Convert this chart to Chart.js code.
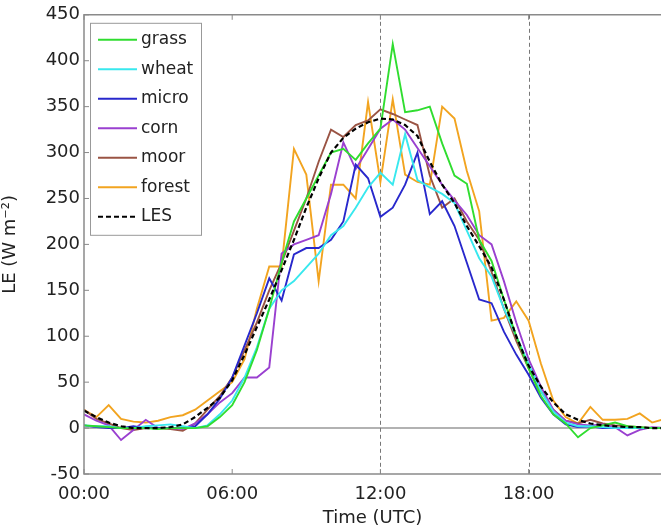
<!DOCTYPE html>
<html>
<head>
<meta charset="utf-8">
<script src="https://cdn.jsdelivr.net/npm/chart.js@4"></script>
<style>
  body { margin: 0; background: #fff; }
  #wrap { width: 661px; height: 532px; position: relative; }
</style>
</head>
<body>
<div id="wrap"><canvas id="leChart"></canvas></div>
<script>
// half-hourly time stamps (hours UTC)
const hours = [0, 0.5, 1, 1.5, 2, 2.5, 3, 3.5, 4, 4.5, 5, 5.5, 6, 6.5, 7, 7.5, 8, 8.5, 9, 9.5,
  10, 10.5, 11, 11.5, 12, 12.5, 13, 13.5, 14, 14.5, 15, 15.5, 16, 16.5, 17, 17.5, 18, 18.5, 19, 19.5,
  20, 20.5, 21, 21.5, 22, 22.5, 23, 23.5];

// LE series (W m-2)
const grass = [3, 2, 1, 0, 0, 0, -1, 0, 0, 0, 2, 12, 25, 50, 85, 130, 180, 225, 250, 275,
  300, 304, 292, 310, 326, 418, 344, 346, 350, 310, 275, 266, 205, 182, 140, 100, 65, 35, 15, 5,
  -10, 0, 3, 6, 2, 1, 0, 0];
const wheat = [3, 2, 2, 0, 0, 2, 3, 4, 2, 0, 3, 15, 30, 55, 88, 130, 150, 160, 175, 190,
  210, 220, 240, 262, 278, 265, 320, 270, 262, 255, 245, 215, 185, 165, 130, 100, 70, 40, 18, 6,
  2, 2, 1, 0, 0, 0, 0, 0];
const micro = [3, 1, 0, 0, 2, 0, 0, 0, 0, 2, 15, 32, 55, 90, 125, 163, 139, 189, 196, 196,
  205, 225, 287, 272, 230, 240, 265, 300, 233, 247, 220, 180, 140, 136, 105, 80, 58, 33, 15, 4,
  1, 2, 0, 0, 0, 0, 0, 0];
const corn = [15, 8, 3, -13, -2, 9, 0, 0, -1, 5, 15, 28, 38, 55, 55, 66, 190, 200, 205, 210,
  255, 311, 282, 304, 326, 336, 325, 305, 285, 265, 248, 232, 210, 200, 160, 115, 75, 45, 20, 8,
  4, 3, 4, 1, -8, -2, 1, 0];
const moor = [20, 10, 5, 0, -2, 0, 0, -1, -3, 5, 20, 35, 55, 85, 115, 150, 180, 215, 250, 290,
  325, 317, 330, 335, 347, 342, 336, 330, 275, 240, 250, 225, 205, 170, 130, 95, 65, 40, 20, 8,
  5, 9, 5, 3, 2, 1, 0, 0];
const forest = [20, 12, 25, 10, 7, 6, 8, 12, 14, 20, 30, 40, 50, 75, 130, 176, 176, 304, 276, 160,
  265, 265, 250, 355, 268, 358, 276, 268, 265, 350, 337, 280, 236, 117, 120, 138, 117, 70, 30, 12,
  5, 23, 9, 9, 10, 16, 6, 10];
const les = [19, 12, 6, 2, 0, 0, 0, 1, 4, 12, 22, 33, 52, 80, 110, 140, 172, 205, 240, 272,
  300, 316, 326, 333, 337, 336, 330, 318, 290, 265, 245, 220, 198, 175, 140, 100, 68, 45, 28, 15,
  9, 5, 3, 2, 1, 1, 0, 0];

const xTickHours = [0, 6, 12, 18];
const markerHours = [12, 18];
const yTicks = [-50, 0, 50, 100, 150, 200, 250, 300, 350, 400, 450];

const FONT = 'DejaVu Sans';
const TXT = '#222';
const AX = '#8a8a8a';

function pts(vals) {
  return vals.map((v, i) => ({ x: hours[i], y: v }));
}

const series = [
  { label: 'grass', data: grass, color: '#30dd30' },
  { label: 'wheat', data: wheat, color: '#38e8ee' },
  { label: 'micro', data: micro, color: '#2828cc' },
  { label: 'corn', data: corn, color: '#9a40d0' },
  { label: 'moor', data: moor, color: '#9a5444' },
  { label: 'forest', data: forest, color: '#f2a420' },
  { label: 'LES', data: les, color: '#000000', dash: [5, 3] }
];

// frame, zero line, dashed marker lines and the boxed legend (MATLAB style)
const framePlugin = {
  id: 'frame',
  beforeDatasetsDraw(chart) {
    const ctx = chart.ctx;
    const a = chart.chartArea;
    const xs = chart.scales.x, ys = chart.scales.y;
    ctx.save();
    ctx.strokeStyle = '#999';
    ctx.lineWidth = 1.5;
    const y0 = ys.getPixelForValue(0);
    ctx.beginPath(); ctx.moveTo(a.left, y0); ctx.lineTo(a.right, y0); ctx.stroke();
    ctx.strokeStyle = '#777';
    ctx.lineWidth = 1;
    ctx.setLineDash([4, 3]);
    markerHours.forEach(h => {
      const px = Math.round(xs.getPixelForValue(h)) + 0.5;
      ctx.beginPath(); ctx.moveTo(px, a.top); ctx.lineTo(px, a.bottom); ctx.stroke();
    });
    ctx.restore();
  },
  afterDraw(chart) {
    const ctx = chart.ctx;
    const a = chart.chartArea;
    const xs = chart.scales.x, ys = chart.scales.y;
    ctx.save();
    ctx.strokeStyle = AX;
    ctx.lineWidth = 1.5;
    ctx.beginPath();
    ctx.moveTo(a.right, a.top); ctx.lineTo(a.left, a.top);
    ctx.lineTo(a.left, a.bottom); ctx.lineTo(a.right, a.bottom);
    ctx.stroke();
    ctx.lineWidth = 1;
    yTicks.forEach(v => {
      const py = ys.getPixelForValue(v);
      ctx.beginPath(); ctx.moveTo(a.left, py); ctx.lineTo(a.left + 5, py); ctx.stroke();
    });
    xTickHours.forEach(h => {
      const px = xs.getPixelForValue(h);
      ctx.beginPath(); ctx.moveTo(px, a.bottom); ctx.lineTo(px, a.bottom - 5); ctx.stroke();
      ctx.beginPath(); ctx.moveTo(px, a.top); ctx.lineTo(px, a.top + 5); ctx.stroke();
    });

    // legend box
    const bx = a.left + 6, by = a.top + 8, bw = 111, bh = 212;
    ctx.fillStyle = '#fff';
    ctx.fillRect(bx, by, bw, bh);
    ctx.strokeStyle = '#999';
    ctx.strokeRect(bx + 0.5, by + 0.5, bw, bh);
    ctx.font = '17px "' + FONT + '"';
    ctx.textBaseline = 'middle';
    series.forEach((s, i) => {
      const ly = by + 17 + i * 29.5;
      ctx.strokeStyle = s.color;
      ctx.lineWidth = 2;
      ctx.setLineDash(s.dash || []);
      ctx.beginPath(); ctx.moveTo(bx + 8, ly); ctx.lineTo(bx + 47, ly); ctx.stroke();
      ctx.setLineDash([]);
      ctx.fillStyle = TXT;
      ctx.fillText(s.label, bx + 51, ly);
    });
    ctx.restore();
  }
};

new Chart(document.getElementById('leChart'), {
  type: 'line',
  data: {
    datasets: series.map(s => ({
      label: s.label,
      data: pts(s.data),
      borderColor: s.color,
      borderWidth: s.dash ? 2.2 : 1.9,
      borderDash: s.dash || [],
      pointRadius: 0,
      tension: 0,
      order: s.dash ? -1 : 0
    }))
  },
  options: {
    responsive: true,
    maintainAspectRatio: false,
    animation: false,
    layout: { padding: { top: 12, right: 0, left: 0, bottom: 0 } },
    plugins: {
      legend: { display: false },
      tooltip: { enabled: false }
    },
    scales: {
      x: {
        type: 'linear',
        min: 0,
        max: 23.36,
        afterBuildTicks: scale => { scale.ticks = xTickHours.map(v => ({ value: v })); },
        afterFit: scale => { scale.height = 58; },
        grid: { display: false, drawTicks: false },
        border: { display: false },
        ticks: {
          color: TXT,
          font: { family: FONT, size: 18 },
          padding: 10,
          maxRotation: 0,
          callback: v => String(v).padStart(2, '0') + ':00'
        },
        title: {
          display: true,
          text: 'Time (UTC)',
          color: TXT,
          font: { family: FONT, size: 18 },
          padding: { top: 0, bottom: 3 }
        }
      },
      y: {
        min: -50,
        max: 450,
        afterBuildTicks: scale => { scale.ticks = yTicks.map(v => ({ value: v })); },
        afterFit: scale => { scale.width = 84; },
        grid: { display: false, drawTicks: false },
        border: { display: false },
        ticks: {
          color: TXT,
          font: { family: FONT, size: 18 },
          padding: 4
        },
        title: {
          display: true,
          text: 'LE (W m⁻²)',
          color: TXT,
          font: { family: FONT, size: 18 },
          padding: { top: 0, bottom: 0 }
        }
      }
    }
  },
  plugins: [framePlugin]
});
</script>
</body>
</html>
